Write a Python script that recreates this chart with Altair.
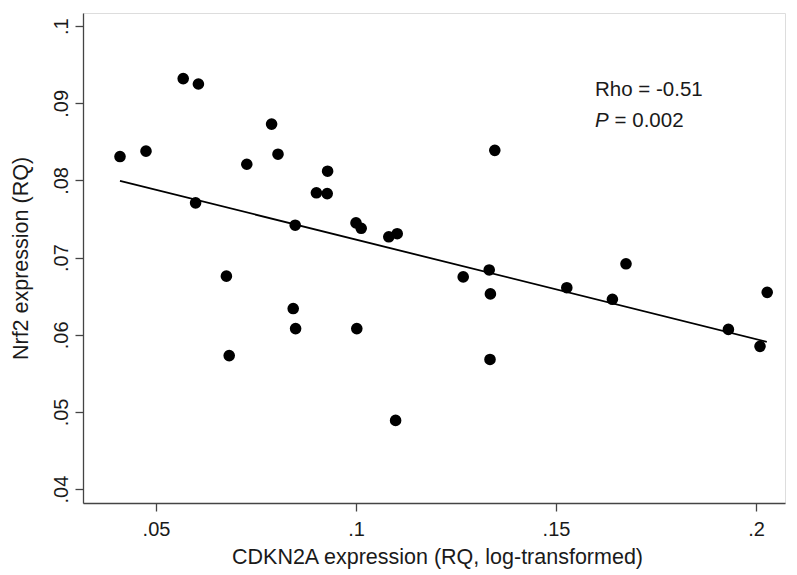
import altair as alt
import pandas as pd

# CDKN2A expression (RQ, log-transformed)
cdkn2a = [0.0410, 0.0475, 0.0568, 0.0606, 0.0599, 0.0676, 0.0683, 0.0727,
          0.0789, 0.0805, 0.0843, 0.0849, 0.0848, 0.0901, 0.0929, 0.0928,
          0.1000, 0.1013, 0.1002, 0.1082, 0.1103, 0.1099, 0.1268, 0.1333,
          0.1336, 0.1335, 0.1347, 0.1527, 0.1641, 0.1675, 0.1931, 0.2010,
          0.2028]
# Nrf2 expression (RQ)
nrf2 = [0.0831, 0.0838, 0.0932, 0.0925, 0.0771, 0.0676, 0.0573, 0.0821,
        0.0873, 0.0834, 0.0634, 0.0608, 0.0742, 0.0784, 0.0812, 0.0783,
        0.0745, 0.0738, 0.0608, 0.0727, 0.0731, 0.0489, 0.0675, 0.0684,
        0.0653, 0.0568, 0.0839, 0.0661, 0.0646, 0.0692, 0.0607, 0.0585,
        0.0655]

# fitted line (linear fit as drawn in the figure), end points
fit_x = [0.0410, 0.2027]
fit_y = [0.07995, 0.05908]

x_ticks = [0.05, 0.10, 0.15, 0.20]
x_tick_labels = [".05", ".1", ".15", ".2"]
y_ticks = [0.04, 0.05, 0.06, 0.07, 0.08, 0.09, 0.10]
y_tick_labels = [".04", ".05", ".06", ".07", ".08", ".09", ".1"]

x_title = "CDKN2A expression (RQ, log-transformed)"
y_title = "Nrf2 expression (RQ)"
annot_rho = "Rho = -0.51"
annot_p_sym = "P"
annot_p_val = "= 0.002"

x_domain = [0.03175, 0.20725]
y_domain = [0.0382, 0.1017]

FONT = "Liberation Sans"

df = pd.DataFrame({"x": cdkn2a, "y": nrf2})
fit_df = pd.DataFrame({"x": fit_x, "y": fit_y})


def label_expr(vals, labels):
    expr = "''"
    for v, l in zip(reversed(vals), reversed(labels)):
        expr = f"abs(datum.value - {v}) < 1e-6 ? '{l}' : ({expr})"
    return expr


xscale = alt.Scale(domain=x_domain, nice=False, zero=False)
yscale = alt.Scale(domain=y_domain, nice=False, zero=False)

x_axis = alt.Axis(
    values=x_ticks, labelExpr=label_expr(x_ticks, x_tick_labels),
    title=x_title, grid=False, tickSize=8, labelPadding=8,
    labelFontSize=20, titleFontSize=21.5, labelFont=FONT, titleFont=FONT,
    labelColor="#1a1a1a", titleColor="#1a1a1a", titleFontWeight="normal",
    domainColor="#444444", tickColor="#444444", domainWidth=1.3, tickWidth=1.3,
    titleBaseline="alphabetic", titleY=60, titleX=354, titleAlign="center",
    labelFlush=False,
)
y_axis = alt.Axis(
    values=y_ticks, labelExpr=label_expr(y_ticks, y_tick_labels),
    title=y_title, grid=False, tickSize=8, labelPadding=4,
    labelAngle=270, labelAlign="center", labelBaseline="bottom",
    labelFontSize=20, titleFontSize=21.5, labelFont=FONT, titleFont=FONT,
    labelColor="#1a1a1a", titleColor="#1a1a1a", titleFontWeight="normal",
    domainColor="#444444", tickColor="#444444", domainWidth=1.3, tickWidth=1.3,
    titleAngle=270, titleX=-62, titleY=245, titleAlign="center",
    titleBaseline="middle", labelFlush=False,
)

points = alt.Chart(df).mark_circle(size=135, color="black", opacity=1).encode(
    x=alt.X("x:Q", scale=xscale, axis=x_axis),
    y=alt.Y("y:Q", scale=yscale, axis=y_axis),
)

fit = alt.Chart(fit_df).mark_line(color="black", strokeWidth=1.8).encode(
    x=alt.X("x:Q", scale=xscale),
    y=alt.Y("y:Q", scale=yscale),
)

ann_df = pd.DataFrame({
    "x": [0.15975, 0.15975, 0.15975 + 0.0049],
    "y": [0.09094, 0.08693, 0.08693],
    "t": [annot_rho, annot_p_sym, annot_p_val],
    "s": ["normal", "italic", "normal"],
})

ann_normal = alt.Chart(ann_df[ann_df.s == "normal"]).mark_text(
    align="left", baseline="alphabetic", fontSize=20.5, font=FONT, color="#1a1a1a"
).encode(x=alt.X("x:Q", scale=xscale), y=alt.Y("y:Q", scale=yscale), text="t:N")

ann_italic = alt.Chart(ann_df[ann_df.s == "italic"]).mark_text(
    align="left", baseline="alphabetic", fontSize=20.5, font=FONT,
    fontStyle="italic", color="#1a1a1a"
).encode(x=alt.X("x:Q", scale=xscale), y=alt.Y("y:Q", scale=yscale), text="t:N")

chart = alt.layer(fit, points, ann_normal, ann_italic).properties(
    width=702, height=490,
    autosize=alt.AutoSizeParams(type="none"),
    padding={"left": 75, "top": 5, "right": 4, "bottom": 68},
).configure_view(stroke=None).configure(background="white")

chart.save("out.html", embed_options={"renderer": "svg", "actions": False})
